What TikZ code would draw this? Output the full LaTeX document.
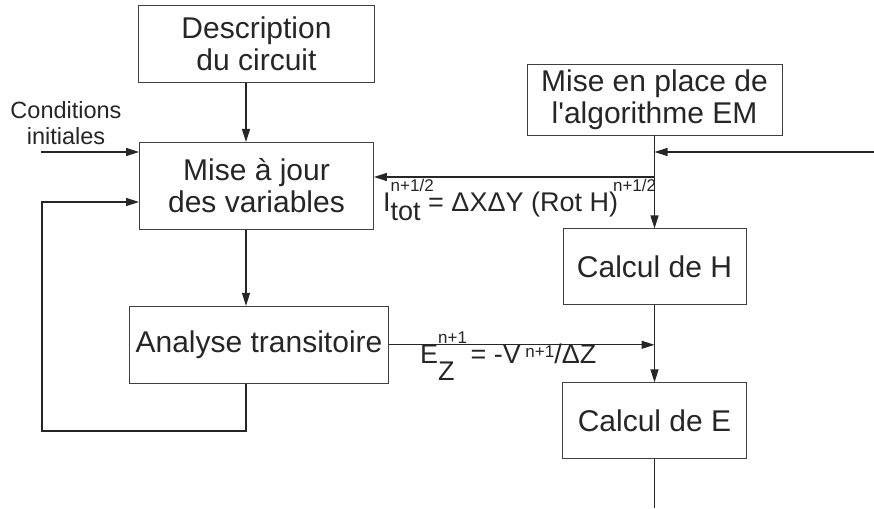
\documentclass[tikz,border=0pt]{standalone}
\usepackage{fontspec}
\setmainfont{Liberation Sans}
\usetikzlibrary{arrows.meta, positioning}

\newcommand{\supfont}{\fontsize{17}{17}\selectfont}
\newcommand{\stackidx}[3]{\rlap{\raisebox{20pt}{\supfont #1}}\raisebox{-#3}{#2}}

\begin{document}
\begin{tikzpicture}[
    x=1pt, y=-1pt,
    block/.style={rectangle, draw=black!75, line width=0.9pt, text=black!85, align=center, font=\fontsize{30}{32}\selectfont, inner sep=0pt},
    arrow/.style={->, >={Stealth[length=13pt, width=8pt, inset=0pt]}, line width=1.2pt, draw=black!85},
    line/.style={line width=1.2pt, draw=black!85},
    eqlabel/.style={anchor=base west, inner sep=0pt, text=black!85, font=\fontsize{27}{29}\selectfont}
]
\useasboundingbox (0,0) rectangle (874,508);

% Blocks
\node[block, minimum width=236pt, minimum height=77pt] (desc) at (256.5,44) {Description\\du circuit};
\node[block, minimum width=234pt, minimum height=87pt, below=59pt of desc] (maj) {Mise à jour\\des variables};
\node[block, minimum width=259pt, minimum height=77pt, below=76pt of maj, xshift=2.5pt] (ana) {Analyse transitoire};
\node[block, minimum width=255pt, minimum height=71pt] (mep) at (654.5,99.5) {Mise en place de\\l\textquotesingle algorithme EM};
\node[block, minimum width=183pt, minimum height=76pt, below=93pt of mep] (calh) {Calcul de H};
\node[block, minimum width=184pt, minimum height=76pt, below=77pt of calh] (cale) {Calcul de E};

\node[align=center, inner sep=0pt, text=black!85, font=\fontsize{23.5}{26}\selectfont] (cond) at (66,123) {Conditions\\initiales};

% Free ends
\coordinate (cin) at (41,152);
\coordinate (rin) at (874,152);
\coordinate (lspine) at (246,0);
\coordinate (loopbl) at (42,431);
\coordinate (fb) at (42,202);
\coordinate (itap) at (654.5,177);
\coordinate (out) at (654.5,508);

% Left chain
\draw[arrow] (desc.south -| lspine) -- (maj.north -| lspine);
\draw[arrow] (cin) -- (cin -| maj.west);
\draw[arrow] (maj.south -| lspine) -- (ana.north -| lspine);
\draw[arrow] (ana.south -| lspine) |- (loopbl) -- (fb) -- (fb -| maj.west);

% Right chain
\draw[arrow] (mep.south) -- (calh.north);
\draw[arrow] (rin) -- (rin -| mep.south);
\draw[arrow] (itap) -- (itap -| maj.east);
\draw[arrow] (calh.south) -- (cale.north);
\draw[arrow] (ana.east) -- (ana.east -| calh.south);
\draw[line] (cale.south) -- (out);

% Labels
\node[eqlabel] (itot) at (383,211) {I\stackidx{n+1/2}{tot}{9pt} = ΔXΔY (Rot H)\kern-5pt\raisebox{20pt}{\supfont n+1/2}};
\node[eqlabel] (ez) at (420,363) {E\stackidx{n+1}{Z}{17pt}\hspace{16pt}= -V\,\raisebox{6pt}{\supfont n+1}/ΔZ};

\end{tikzpicture}
\end{document}
